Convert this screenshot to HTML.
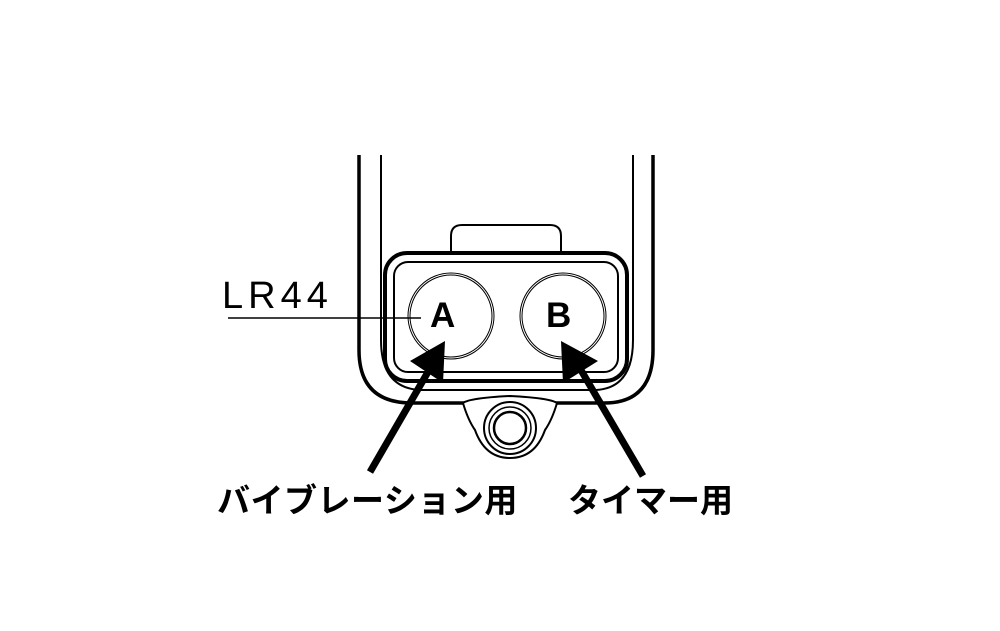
<!DOCTYPE html>
<html><head><meta charset="utf-8"><style>
body{margin:0;background:#fff;width:1000px;height:631px;overflow:hidden;position:relative}
svg{position:absolute;left:0;top:0}
.t{position:absolute;font-family:"Liberation Sans","Noto Sans CJK JP",sans-serif;color:#000;white-space:nowrap;line-height:1}
</style></head><body>
<svg width="1000" height="631" viewBox="0 0 1000 631">
<g fill="none" stroke="#000">
<path d="M359 155 V350 Q359 403 412 403 H604 Q653 403 653 350 V155" stroke-width="3.5"/>
<path d="M381 155 V340 Q381 388 420 390 H596 Q633 388 633 340 V155" stroke-width="2"/>
<path d="M451 252 V236 Q451 225 462 225 H550 Q561 225 561 236 V252" stroke-width="2"/>
<rect x="385" y="253" width="242" height="128" rx="22" stroke-width="4" fill="#fff"/>
<rect x="394" y="262" width="224" height="110" rx="14" stroke-width="2"/>
<circle cx="451" cy="316" r="43" stroke-width="1"/>
<circle cx="451" cy="316" r="41" stroke-width="1"/>
<circle cx="563" cy="316" r="43" stroke-width="1"/>
<circle cx="563" cy="316" r="41" stroke-width="1"/>
<path d="M463 403 Q470 398 510 396 Q550 398 557 403 Q552 420 545 430 Q535 458 510 458 Q485 458 475 430 Q468 420 463 403" stroke-width="2" fill="#fff"/>
<circle cx="510" cy="428" r="26" stroke-width="2"/>
<circle cx="510" cy="428" r="21" stroke-width="1.5"/>
<circle cx="510" cy="428" r="16" stroke-width="2.5"/>
<line x1="228" y1="318" x2="421" y2="318" stroke-width="1.5"/>
<line x1="370" y1="472" x2="432" y2="365" stroke-width="7"/>
<line x1="643" y1="476" x2="578" y2="365" stroke-width="7"/>
</g>
<polygon points="445,341 410,361 443,383" fill="#000"/>
<polygon points="561,341 598,361 563,383" fill="#000"/>
</svg>
<div class="t" style="left:222px;top:277px;font-size:38px;letter-spacing:5px">LR44</div>
<div class="t" style="left:430px;top:298px;font-size:35px;font-weight:bold">A</div>
<div class="t" style="left:546px;top:298px;font-size:35px;font-weight:bold">B</div>
<div class="t" style="left:217px;top:484px;font-size:33px;font-weight:bold;letter-spacing:0.5px">バイブレーション用</div>
<div class="t" style="left:568px;top:484px;font-size:33px;font-weight:bold">タイマー用</div>
</body></html>
